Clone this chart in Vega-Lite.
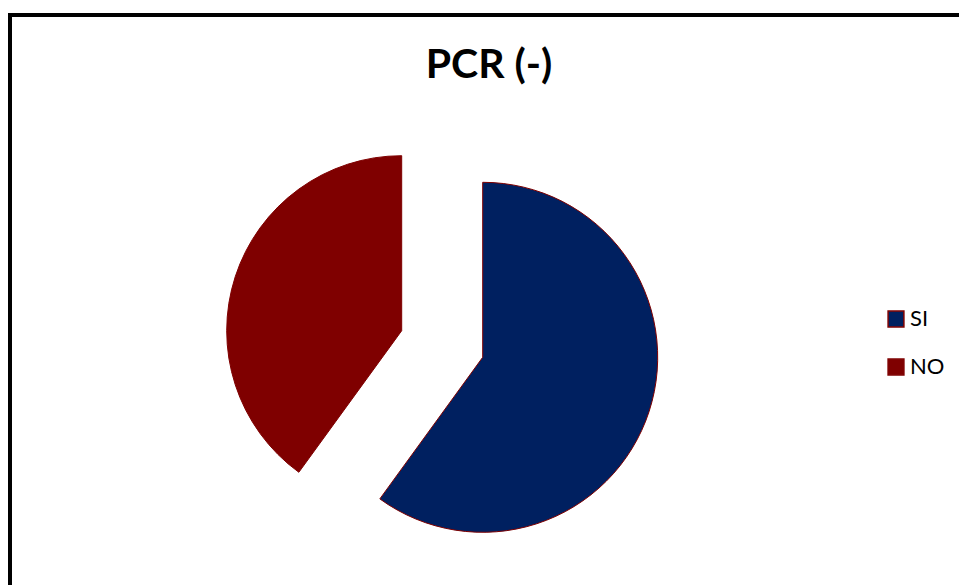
{
  "$schema": "https://vega.github.io/schema/vega-lite/v6.json",
  "autosize": {"type": "none"},
  "padding": {"left": 10, "top": 15, "right": 0, "bottom": 0},
  "width": 949,
  "height": 570,
  "background": "white",
  "config": {
    "view": {"stroke": "black", "strokeWidth": 4, "strokeDash": [949, 1519, 570]},
    "font": "Lato"
  },
  "title": {
    "text": "PCR (-)",
    "orient": "top",
    "anchor": "middle",
    "frame": "group",
    "offset": -103.5,
    "baseline": "alphabetic",
    "dx": 4.5,
    "font": "Lato",
    "fontSize": 41,
    "fontWeight": "bold",
    "color": "black"
  },
  "data": {
    "values": [
      {"category": "SI", "value": 60},
      {"category": "NO", "value": 40}
    ]
  },
  "mark": {"type": "arc", "radius": 175, "stroke": "#7F0000", "strokeWidth": 1},
  "encoding": {
    "theta": {"field": "value", "type": "quantitative", "stack": true},
    "order": {"field": "category", "sort": "descending"},
    "x": {"field": "category", "type": "nominal", "axis": null,
          "scale": {"type": "point", "padding": 0, "domain": ["NO", "SI"], "range": [391.7, 472.7]}},
    "y": {"field": "category", "type": "nominal", "axis": null,
          "scale": {"type": "point", "padding": 0, "domain": ["NO", "SI"], "range": [315.7, 342.3]}},
    "color": {
      "field": "category", "type": "nominal",
      "scale": {"domain": ["SI", "NO"], "range": ["#002060", "#7F0000"]},
      "legend": {
        "title": null,
        "orient": "none",
        "legendX": 875,
        "legendY": 293,
        "padding": 0,
        "symbolType": "square",
        "symbolSize": 250,
        "symbolStrokeColor": "#7F0000",
        "symbolStrokeWidth": 1.5,
        "symbolOpacity": 1,
        "labelFont": "Lato",
        "labelFontSize": 22,
        "labelColor": "black",
        "labelOffset": 3,
        "rowPadding": 26
      }
    }
  }
}
